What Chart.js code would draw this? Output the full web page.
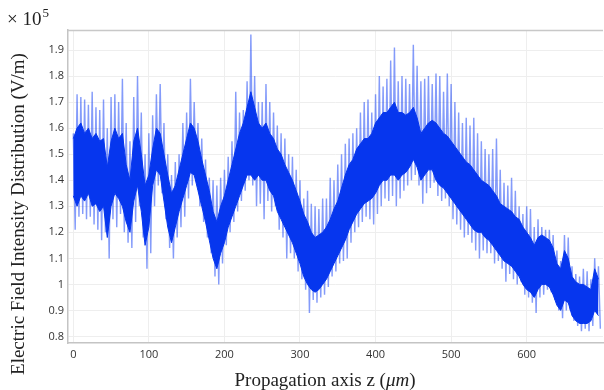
<!DOCTYPE html>
<html>
<head>
<meta charset="utf-8">
<script src="https://cdn.jsdelivr.net/npm/chart.js@4.4.1/dist/chart.umd.min.js"></script>
<style>
  html, body { margin: 0; padding: 0; background: #fff; }
  #wrap { position: relative; width: 604px; height: 390px; overflow: hidden; }
  #c { position: absolute; left: 0; top: 0; }
  .lbl { position: absolute; font-family: "Liberation Serif", "DejaVu Serif", serif; color: #222; font-size: 19px; white-space: nowrap; line-height: 1; }
  #xTitle { left: 325px; top: 379px; transform: translate(-50%, -50%); }
  #yTitle { left: 17px; top: 214px; transform: translate(-50%, -50%) rotate(-90deg); }
  #expo { left: 7px; top: 9px; }
  #expo sup { font-size: 13px; vertical-align: 0; position: relative; top: -8px; margin-left: 1px; }
</style>
</head>
<body>
<div id="wrap">
  <canvas id="c" width="604" height="390"></canvas>
  <div class="lbl" id="expo">× 10<sup>5</sup></div>
  <div class="lbl" id="yTitle">Electric Field Intensity Distribution (V/m)</div>
  <div class="lbl" id="xTitle">Propagation axis z (<i>μm</i>)</div>
</div>
<script>
// Field magnitude along z, in units of 1e5 V/m.
// Spike extremes every 5 µm (peak at z, trough at z + 2.5 µm).
const spikeStep = 5;
const spikeHi = [
  1.58, 1.73, 1.72, 1.71, 1.69, 1.74, 1.68, 1.67, 1.71, 1.60,
  1.72, 1.73, 1.70, 1.79, 1.62, 1.55, 1.72, 1.80, 1.66, 1.50,
  1.58, 1.65, 1.73, 1.77, 1.62, 1.50, 1.42, 1.47, 1.50, 1.62,
  1.66, 1.79, 1.70, 1.62, 1.56, 1.48, 1.41, 1.40, 1.38, 1.41,
  1.44, 1.49, 1.55, 1.74, 1.66, 1.67, 1.78, 1.96, 1.80, 1.70,
  1.70, 1.77, 1.70, 1.66, 1.61, 1.58, 1.56, 1.50, 1.49, 1.44,
  1.40, 1.33, 1.36, 1.31, 1.30, 1.29, 1.33, 1.33, 1.41, 1.40,
  1.46, 1.50, 1.54, 1.56, 1.58, 1.60, 1.66, 1.70, 1.71, 1.66,
  1.73, 1.80, 1.76, 1.79, 1.86, 1.91, 1.78, 1.80, 1.79, 1.77,
  1.92, 1.84, 1.78, 1.79, 1.80, 1.77, 1.81, 1.80, 1.74, 1.81,
  1.77, 1.70, 1.66, 1.62, 1.64, 1.61, 1.64, 1.58, 1.55, 1.52,
  1.50, 1.52, 1.56, 1.44, 1.39, 1.38, 1.41, 1.36, 1.30, 1.27,
  1.30, 1.29, 1.22, 1.25, 1.22, 1.21, 1.21, 1.19, 1.13, 1.09,
  1.19, 1.18, 1.07, 1.04, 1.03, 1.06, 1.05, 1.02, 1.10, 1.07
];
const spikeLo = [
  1.21, 1.26, 1.27, 1.25, 1.26, 1.23, 1.21, 1.17, 1.20, 1.10,
  1.25, 1.22, 1.27, 1.20, 1.16, 1.14, 1.24, 1.30, 1.18, 1.06,
  1.12, 1.30, 1.38, 1.35, 1.25, 1.14, 1.10, 1.18, 1.22, 1.26,
  1.33, 1.38, 1.40, 1.30, 1.24, 1.18, 1.12, 1.03, 1.00, 1.08,
  1.15, 1.20, 1.24, 1.28, 1.32, 1.36, 1.40, 1.38, 1.30, 1.31,
  1.25, 1.32, 1.28, 1.30, 1.21, 1.18, 1.10, 1.12, 1.10, 1.05,
  1.02, 0.98, 0.89, 0.94, 0.93, 0.95, 0.96, 0.99, 1.03, 1.05,
  1.08, 1.09, 1.10, 1.16, 1.20, 1.22, 1.24, 1.26, 1.25, 1.23,
  1.27, 1.30, 1.33, 1.32, 1.34, 1.30, 1.33, 1.36, 1.38, 1.40,
  1.42, 1.38, 1.31, 1.35, 1.37, 1.39, 1.34, 1.32, 1.33, 1.30,
  1.25, 1.23, 1.21, 1.18, 1.19, 1.16, 1.13, 1.10, 1.13, 1.12,
  1.12, 1.08, 1.09, 1.06, 1.01, 1.04, 1.02, 1.00, 1.01, 0.96,
  0.95, 0.93, 0.89, 0.95, 0.96, 0.98, 0.97, 0.94, 0.90, 0.87,
  0.90, 0.90, 0.86, 0.84, 0.82, 0.83, 0.82, 0.84, 0.89, 0.83
];
// Dense body of the signal every 5 µm (upper / lower edge).
const coreStep = 5;
const coreHi = [
  1.56, 1.60, 1.62, 1.58, 1.60, 1.56, 1.58, 1.55, 1.56, 1.45,
  1.55, 1.60, 1.56, 1.58, 1.46, 1.40, 1.55, 1.60, 1.50, 1.38,
  1.42, 1.52, 1.60, 1.58, 1.50, 1.42, 1.35, 1.38, 1.44, 1.50,
  1.56, 1.62, 1.60, 1.55, 1.48, 1.42, 1.36, 1.28, 1.24, 1.30,
  1.34, 1.40, 1.46, 1.52, 1.58, 1.62, 1.68, 1.74, 1.68, 1.62,
  1.60, 1.62, 1.58, 1.56, 1.52, 1.50, 1.46, 1.43, 1.40, 1.36,
  1.32, 1.27, 1.24, 1.20, 1.18, 1.19, 1.20, 1.22, 1.25, 1.29,
  1.32, 1.37, 1.42, 1.46, 1.48, 1.52, 1.54, 1.56, 1.56, 1.58,
  1.62, 1.64, 1.66, 1.66, 1.68, 1.70, 1.66, 1.66, 1.65, 1.66,
  1.68, 1.64, 1.58, 1.60, 1.62, 1.63, 1.62, 1.60, 1.58, 1.57,
  1.55, 1.53, 1.51, 1.49, 1.47, 1.46, 1.44, 1.42, 1.40, 1.39,
  1.38, 1.36, 1.34, 1.31, 1.30, 1.29, 1.28, 1.26, 1.25, 1.22,
  1.20, 1.18, 1.15, 1.18, 1.19, 1.18, 1.17, 1.14, 1.08, 1.06,
  1.13, 1.10, 1.03, 1.01, 1.00, 1.00, 0.99, 0.98, 1.06, 1.02
];
const coreLo = [
  1.34, 1.30, 1.34, 1.32, 1.35, 1.30, 1.31, 1.28, 1.30, 1.18,
  1.30, 1.35, 1.33, 1.30, 1.24, 1.20, 1.32, 1.38, 1.28, 1.15,
  1.22, 1.38, 1.44, 1.42, 1.32, 1.22, 1.16, 1.22, 1.28, 1.33,
  1.38, 1.43, 1.42, 1.36, 1.30, 1.24, 1.17, 1.10, 1.06, 1.12,
  1.16, 1.22, 1.26, 1.30, 1.34, 1.38, 1.42, 1.42, 1.40, 1.42,
  1.40, 1.40, 1.36, 1.34, 1.28, 1.25, 1.22, 1.19, 1.16, 1.12,
  1.08, 1.03, 1.00, 0.98, 0.97, 0.98, 1.00, 1.02, 1.05, 1.08,
  1.11, 1.14, 1.17, 1.21, 1.24, 1.27, 1.29, 1.31, 1.32, 1.33,
  1.35, 1.38, 1.40, 1.40, 1.42, 1.42, 1.40, 1.42, 1.43, 1.45,
  1.48, 1.45, 1.40, 1.42, 1.44, 1.44, 1.40, 1.38, 1.37, 1.35,
  1.33, 1.31, 1.29, 1.27, 1.25, 1.23, 1.21, 1.20, 1.20, 1.18,
  1.17, 1.15, 1.13, 1.11, 1.09, 1.08, 1.07, 1.05, 1.03, 1.00,
  0.98, 0.97, 0.95, 0.98, 1.00, 1.00, 0.99, 0.96, 0.92, 0.90,
  0.94, 0.93, 0.88, 0.86, 0.85, 0.85, 0.85, 0.86, 0.90, 0.88
];
const xTicks = [0, 100, 200, 300, 400, 500, 600];
const yTicks = [0.8, 0.9, 1.0, 1.1, 1.2, 1.3, 1.4, 1.5, 1.6, 1.7, 1.8, 1.9];

const spikePts = [];
spikeHi.forEach((v, k) => {
  spikePts.push({ x: k * spikeStep, y: v });
  spikePts.push({ x: k * spikeStep + spikeStep / 2, y: spikeLo[k] });
});
const coreHiPts = coreHi.map((v, k) => ({ x: k * coreStep, y: v }));
const coreLoPts = coreLo.map((v, k) => ({ x: k * coreStep, y: v }));

const BLUE = '#0636ee';

// top edge of the plot frame
const framePlugin = {
  id: 'frame',
  beforeDatasetsDraw(chart) {
    const { ctx, chartArea: a } = chart;
    ctx.save();
    ctx.strokeStyle = '#c8c8c8';
    ctx.lineWidth = 1.5;
    ctx.beginPath();
    ctx.moveTo(a.left, a.top + 0.5);
    ctx.lineTo(a.right, a.top + 0.5);
    ctx.stroke();
    ctx.restore();
  }
};

new Chart(document.getElementById('c'), {
  type: 'line',
  data: {
    datasets: [
      { data: coreHiPts, borderColor: BLUE, backgroundColor: BLUE, borderWidth: 1, fill: '+1', order: 0 },
      { data: coreLoPts, borderColor: BLUE, borderWidth: 1, fill: false, order: 0 },
      { data: spikePts, borderColor: 'rgba(10, 55, 245, 0.5)', borderWidth: 1.4, fill: false, order: 1 }
    ]
  },
  options: {
    responsive: false,
    animation: false,
    layout: { padding: { left: 0, top: 30, right: 1, bottom: 0 } },
    elements: { point: { radius: 0 }, line: { tension: 0 } },
    plugins: { legend: { display: false }, tooltip: { enabled: false } },
    scales: {
      x: {
        type: 'linear',
        min: -7, max: 701,
        afterFit: s => { s.height = 47; },
        afterBuildTicks: s => { s.ticks = xTicks.map(v => ({ value: v })); },
        grid: { color: '#eeeeee', drawTicks: false },
        border: { color: '#c4c4c4', width: 1.5 },
        ticks: { padding: 5, color: '#333', font: { family: 'Open Sans', size: 11 }, maxRotation: 0 }
      },
      y: {
        type: 'linear',
        min: 0.775, max: 1.977,
        afterFit: s => { s.width = 68; },
        afterBuildTicks: s => { s.ticks = yTicks.map(v => ({ value: v })); },
        grid: { color: '#eeeeee', drawTicks: false },
        border: { color: '#c4c4c4', width: 1.5 },
        ticks: {
          padding: 4, color: '#333', font: { family: 'Open Sans', size: 11 },
          callback: v => String(Number(v.toFixed(1)))
        }
      }
    }
  },
  plugins: [framePlugin]
});
</script>
</body>
</html>
